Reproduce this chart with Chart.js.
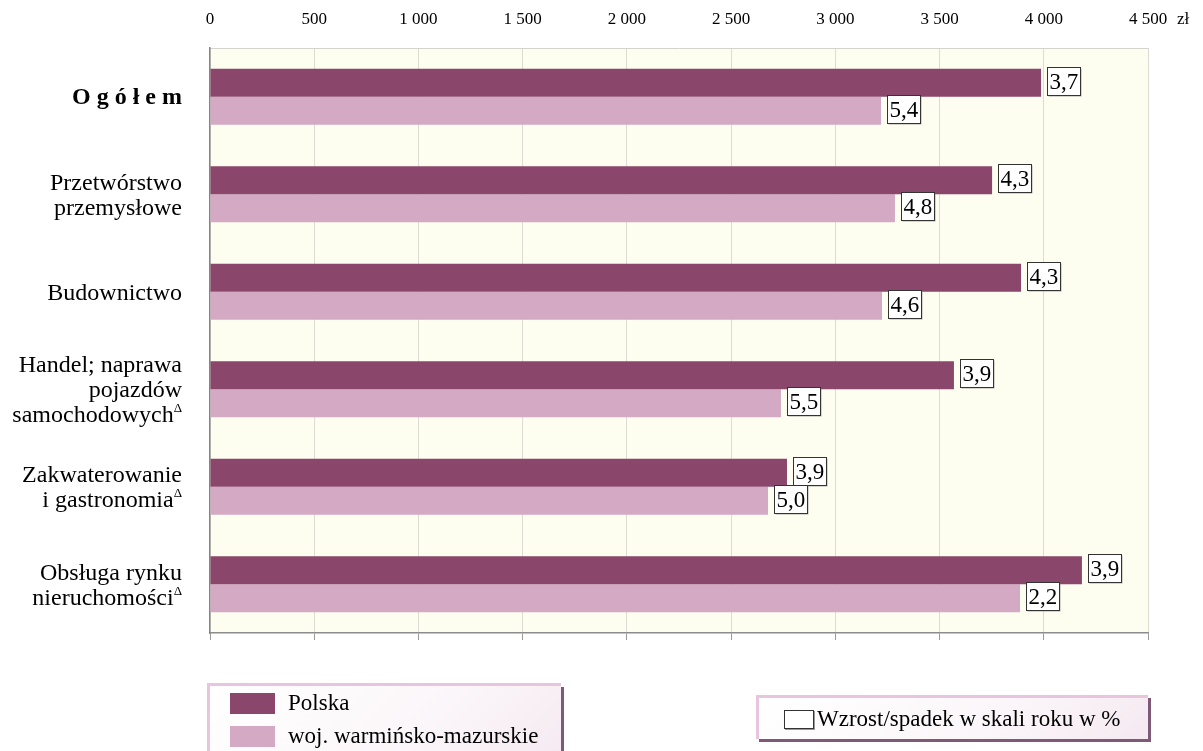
<!DOCTYPE html>
<html>
<head>
<meta charset="utf-8">
<script src="https://cdn.jsdelivr.net/npm/chart.js@4/dist/chart.umd.min.js"></script>
<style>
  html, body { margin: 0; padding: 0; background: #ffffff; }
  #wrap { position: relative; width: 1203px; height: 751px; overflow: hidden; }
  #c { position: absolute; left: 0; top: 0; }
  .legend { position: absolute; box-sizing: border-box; font-family: "Liberation Serif", "Times New Roman", serif; color: #000;
            background: linear-gradient(135deg, #ffffff 0%, #fbf6f9 60%, #f5e9f1 100%);
            border-top: 3px solid #e9c5dd; border-left: 3px solid #e9c5dd; }
  .legend .row { position: absolute; left: 20px; display: flex; align-items: center; font-size: 23px; line-height: 24px; white-space: nowrap; }
  .legend .sw { width: 45px; height: 21px; margin-right: 13px; }
  #leg1 { left: 207px; top: 683px; width: 354px; height: 80px; box-shadow: 3px 4px 0 0 #7e5a78; }
  #leg2 { left: 756px; top: 695px; width: 392px; height: 44px; box-shadow: 3px 3px 0 0 #7e5a78; }
  #leg2 .row { left: 25px; top: 9px; }
  #leg2 .box { width: 30px; height: 19px; box-sizing: border-box; border: 1px solid #333; background: #fff; margin-right: 3px; box-shadow: 1px 1px 0 #999; }
</style>
</head>
<body>
<div id="wrap">
  <canvas id="c" width="1203" height="751"></canvas>
  <div class="legend" id="leg1"></div>
  <div class="legend" id="leg2"></div>
</div>
<script>
// ---- data ----
const categories = [
  ["O g ó ł e m"],
  ["Przetwórstwo", "przemysłowe"],
  ["Budownictwo"],
  ["Handel; naprawa", "pojazdów", "samochodowych^Δ"],
  ["Zakwaterowanie", "i gastronomia^Δ"],
  ["Obsługa rynku", "nieruchomości^Δ"]
];
const seriesNames = ["Polska", "woj. warmińsko-mazurskie"];
const polskaValues = [3987, 3752, 3891, 3569, 2768, 4183];
const wojValues    = [3219, 3286, 3224, 2739, 2677, 3886];
const polskaGrowth = [3.7, 4.3, 4.3, 3.9, 3.9, 3.9];
const wojGrowth    = [5.4, 4.8, 4.6, 5.5, 5.0, 2.2];
const axisMin = 0, axisMax = 4500, axisStep = 500;
const unitLabel = "zł";
const noteLabel = "Wzrost/spadek w skali roku w %";

// ---- styles ----
const colors = ["#8b466b", "#d3a9c4"];
const SERIF = '"Liberation Serif", "Times New Roman", serif';

function fmtThousands(v) { return String(v).replace(/\B(?=(\d{3})+(?!\d))/g, " "); }
function fmtComma(v) { return v.toFixed(1).replace(".", ","); }

const bgPlugin = {
  id: "bg",
  beforeDraw(chart) {
    const { ctx, chartArea: a } = chart;
    ctx.save();
    ctx.fillStyle = "#fefef0";
    ctx.fillRect(a.left, a.top, a.right - a.left, a.bottom - a.top);
    ctx.restore();
  }
};

const catLabelPlugin = {
  id: "catLabels",
  afterDraw(chart) {
    const { ctx } = chart;
    const ys = chart.scales.y;
    const xRight = 182;
    const lh = 25;
    ctx.save();
    ctx.fillStyle = "#000";
    ctx.textBaseline = "middle";
    categories.forEach((lines, i) => {
      const cy = ys.getPixelForTick(i) + 1.5;
      const startY = cy - (lines.length - 1) * lh / 2;
      lines.forEach((line, j) => {
        const y = startY + j * lh;
        const bold = i === 0;
        let main = line, sup = "";
        const k = line.indexOf("^");
        if (k >= 0) { main = line.slice(0, k); sup = line.slice(k + 1); }
        let supW = 0;
        if (sup) {
          ctx.font = "13px " + SERIF;
          supW = ctx.measureText(sup).width;
          ctx.textAlign = "right";
          ctx.fillText(sup, xRight, y - 7);
        }
        ctx.font = (bold ? "bold " : "") + "24px " + SERIF;
        ctx.textAlign = "right";
        ctx.fillText(main, xRight - supW, y);
      });
    });
    // unit label next to the top axis
    const xs = chart.scales.x;
    ctx.font = "17px " + SERIF;
    ctx.textAlign = "left";
    ctx.textBaseline = "middle";
    ctx.fillText(unitLabel, xs.right + 29, 20);
    ctx.restore();
  }
};

const valueBoxPlugin = {
  id: "valueBoxes",
  afterDatasetsDraw(chart) {
    const { ctx } = chart;
    const growth = [polskaGrowth, wojGrowth];
    ctx.save();
    ctx.font = "23px " + SERIF;
    ctx.textBaseline = "middle";
    ctx.textAlign = "left";
    chart.data.datasets.forEach((ds, di) => {
      const meta = chart.getDatasetMeta(di);
      meta.data.forEach((bar, i) => {
        const txt = fmtComma(growth[di][i]);
        const tw = ctx.measureText(txt).width;
        const bx = Math.round(bar.x) + 6.5;
        const by = Math.round(bar.y - 16) + 0.5;
        const bw = Math.round(tw + 4), bh = 28;
        ctx.fillStyle = "rgba(120,120,120,0.6)";
        ctx.fillRect(bx + 1, by + 1, bw, bh);
        ctx.fillStyle = "#ffffff";
        ctx.fillRect(bx, by, bw, bh);
        ctx.strokeStyle = "#333333";
        ctx.lineWidth = 1;
        ctx.strokeRect(bx, by, bw, bh);
        ctx.fillStyle = "#000";
        ctx.fillText(txt, bx + 2, by + bh / 2 + 1);
      });
    });
    ctx.restore();
  }
};

new Chart(document.getElementById("c"), {
  type: "bar",
  data: {
    labels: categories,
    datasets: [
      { label: seriesNames[0], data: polskaValues, backgroundColor: colors[0], borderWidth: 0 },
      { label: seriesNames[1], data: wojValues, backgroundColor: colors[1], borderWidth: 0 }
    ]
  },
  options: {
    indexAxis: "y",
    responsive: false,
    animation: false,
    devicePixelRatio: 1,
    categoryPercentage: 0.574,
    barPercentage: 1.0,
    layout: { padding: { left: 0, top: 8, right: 55, bottom: 110 } },
    plugins: { legend: { display: false }, tooltip: { enabled: false } },
    scales: {
      x: {
        type: "linear", position: "top", min: axisMin, max: axisMax,
        ticks: { stepSize: axisStep, padding: 18, color: "#000", font: { family: SERIF, size: 17 },
                 callback: v => fmtThousands(v) },
        grid: { color: "#dcdcd2", lineWidth: 1, drawTicks: false },
        border: { color: "#d4d4cc", width: 1 },
        afterFit(s) { s.height = 40; }
      },
      x2: {
        type: "linear", position: "bottom", min: axisMin, max: axisMax,
        ticks: { stepSize: axisStep, display: false },
        grid: { drawOnChartArea: false, drawTicks: true, tickLength: 7, color: "#9a9a9a" },
        border: { color: "#8c8c8c", width: 1.5 },
        afterFit(s) { s.height = 8; }
      },
      y: {
        type: "category", position: "left",
        ticks: { display: false },
        grid: { display: false, drawTicks: false },
        border: { color: "#858585", width: 1.5 },
        afterFit(s) { s.width = 210; }
      }
    }
  },
  plugins: [bgPlugin, catLabelPlugin, valueBoxPlugin]
});

// ---- legends ----
const leg1 = document.getElementById("leg1");
seriesNames.forEach((name, i) => {
  const row = document.createElement("div");
  row.className = "row";
  row.style.top = (i === 0 ? 5 : 38) + "px";
  const sw = document.createElement("span");
  sw.className = "sw";
  sw.style.background = colors[i];
  const t = document.createElement("span");
  t.textContent = name;
  row.appendChild(sw); row.appendChild(t);
  leg1.appendChild(row);
});
const leg2 = document.getElementById("leg2");
const row2 = document.createElement("div");
row2.className = "row";
const bx = document.createElement("span"); bx.className = "box";
const t2 = document.createElement("span"); t2.textContent = noteLabel;
row2.appendChild(bx); row2.appendChild(t2);
leg2.appendChild(row2);
</script>
</body>
</html>
